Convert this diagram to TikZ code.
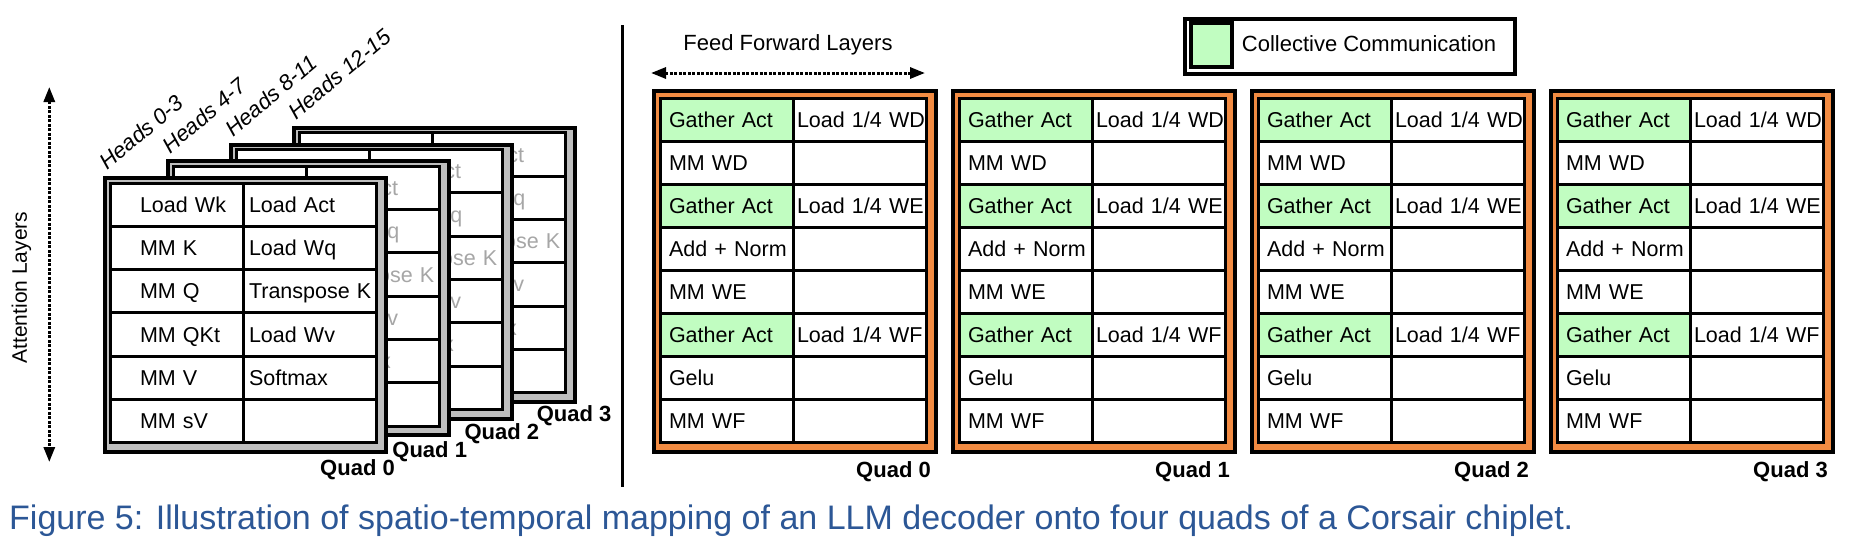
\documentclass[tikz,border=0pt]{standalone}
\usepackage{fontspec}
\setmainfont{Liberation Sans}
\usepackage{tikz}
\usetikzlibrary{arrows.meta,positioning}
\definecolor{comm}{HTML}{C1FDC1}
\definecolor{quadorange}{HTML}{F28B42}
\definecolor{cardgray}{HTML}{BEBEBE}
\definecolor{fadetext}{HTML}{A6A6A6}
\definecolor{capblue}{HTML}{2C5796}
\newcommand{\cellfont}{\fontsize{21.5}{24}\selectfont}
\newcommand{\lblfont}{\fontsize{22}{26}\selectfont}
\newcommand{\capfont}{\fontsize{34}{40}\selectfont}

\begin{document}
\begin{tikzpicture}[x=1pt, y=-1pt,
    quadcard/.style={rectangle, draw, line width=4pt, fill=cardgray, minimum width=281pt, minimum height=274pt, anchor=north west, inner sep=0pt},
    ffpanel/.style={rectangle, draw, line width=4pt, fill=quadorange, minimum width=282pt, minimum height=361pt, anchor=north west, inner sep=0pt},
    cell/.style={rectangle, draw, line width=3pt, fill=white, minimum width=133pt, minimum height=#1, inner sep=0pt, text width=133pt, align=left, text height=16pt, text depth=1pt, font=\cellfont},
    pad/.style={execute at begin node={\hspace*{#1}}},
    headlbl/.style={font=\lblfont\itshape, rotate=40, anchor=base west, inner sep=0pt},
    quadlbl/.style={font=\lblfont\bfseries, anchor=base east, inner sep=0pt},
    layerarrow/.style={{Triangle[length=15pt, width=11pt]}-{Triangle[length=15pt, width=11pt]}, line width=3pt, dash pattern=on 3pt off 1.5pt}
]
    \useasboundingbox (0,0) rectangle (1850,547);

    % Attention layers: four quads stacked, back to front
    \foreach \q/\hd in {3/12-15, 2/8-11, 1/4-7, 0/0-3} {
        \ifnum\q=0 \def\tc{black}\else\def\tc{fadetext}\fi
        \node[quadcard] (card\q) at (103+63*\q, 176-16.7*\q) {};
        \foreach \a/\b [count=\r from 0] in {Load Wk/Load Act, MM K/Load Wq, MM Q/Transpose K, MM QKt/Load Wv, MM V/Softmax, MM sV/} {
            \node[cell=43.3pt, pad=30pt, text=\tc] (a\q-\r-l) at ([shift={(73.5, 28.65+43.3*\r)}]card\q.north west) {\a};
            \node[cell=43.3pt, pad=6pt, text=\tc] (a\q-\r-r) at ([shift={(206.5, 28.65+43.3*\r)}]card\q.north west) {\b};
        }
        \node[headlbl] (heads\q) at ([shift={(4,-5)}]card\q.north west) {Heads \hd};
    }
    \foreach \q in {0,...,3}
        \node[quadlbl] (aquad\q) at (395+72.2*\q, 475-17.8*\q) {Quad \q};

    \coordinate (attTop) at (49.3,87);
    \coordinate (attBot) at (49.3,462);
    \draw[layerarrow] (attTop) -- (attBot);
    \node[font=\fontsize{21}{25}\selectfont, rotate=90] (attlbl) at (21.5,287.5) {Attention Layers};

    % Divider
    \coordinate (divTop) at (622,25);
    \coordinate (divBot) at (622,487);
    \draw[line width=3pt] (divTop) -- (divBot);

    % Feed forward layers
    \coordinate (ffL) at (651,73);
    \coordinate (ffR) at (925,73);
    \draw[layerarrow] (ffL) -- (ffR);
    \node[font=\lblfont] (fflbl) at (788,45) {Feed Forward Layers};

    \foreach \p in {0,...,3} {
        \node[ffpanel] (panel\p) at (652+299*\p, 89) {};
        \foreach \a/\b/\f [count=\r from 0] in {Gather Act/{Load 1/4 WD}/comm, MM WD//white, Gather Act/{Load 1/4 WE}/comm, Add + Norm//white, MM WE//white, Gather Act/{Load 1/4 WF}/comm, Gelu//white, MM WF//white} {
            \node[cell=43pt, pad=9pt, fill=\f] (f\p-\r-l) at ([shift={(74.5, 30.5+43*\r)}]panel\p.north west) {\a};
            \node[cell=43pt, pad=4pt] (f\p-\r-r) at ([shift={(207.5, 30.5+43*\r)}]panel\p.north west) {\b};
        }
        \node[quadlbl] (fquad\p) at ([shift={(-7,23)}]panel\p.south east) {Quad \p};
    }

    % Legend
    \node[rectangle, draw, line width=3.5pt, fill=white, minimum width=330pt, minimum height=55pt, anchor=north west] (legend) at (1183,17) {};
    \node[rectangle, draw, line width=3.5pt, fill=comm, minimum width=41pt, minimum height=44pt, inner sep=0pt] (legsw) at (1211.5,45) {};
    \node[anchor=west, inner sep=0pt, font=\lblfont] (legtxt) at (1241.7,44) {Collective Communication};

    % Caption
    \node[anchor=base west, inner sep=0pt, font=\capfont, text=capblue] (caption) at (9,529.6) {Figure 5: Illustration of spatio-temporal mapping of an LLM decoder onto four quads of a Corsair chiplet.};
\end{tikzpicture}
\end{document}
